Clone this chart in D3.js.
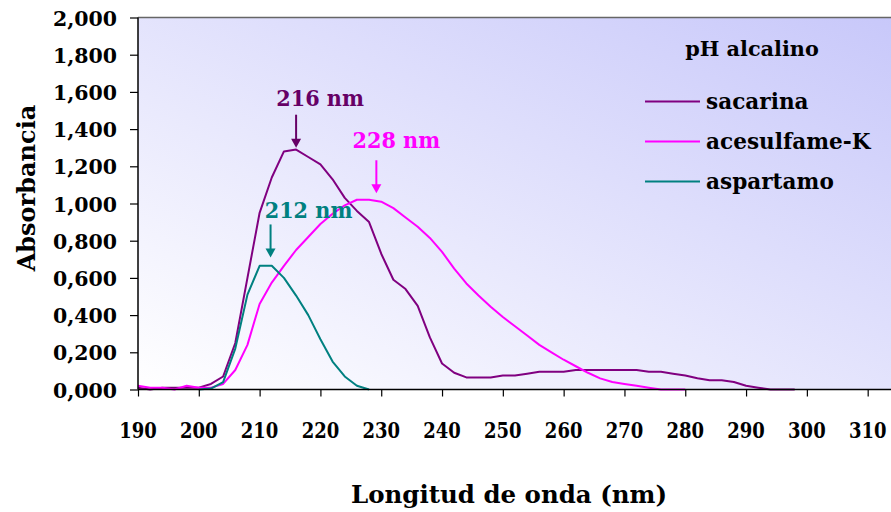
<!DOCTYPE html>
<html>
<head>
<meta charset="utf-8">
<script src="https://cdn.jsdelivr.net/npm/d3@7"></script>
<style>
  body { margin: 0; background: #fff; }
  text { font-family: "DejaVu Serif", serif; font-weight: bold; }
</style>
</head>
<body>
<div id="chart"></div>
<script>
// wavelength (nm), one reading every 2 nm
var wavelengths = [
  190, 192, 194, 196, 198, 200, 202, 204, 206, 208,
  210, 212, 214, 216, 218, 220, 222, 224, 226, 228,
  230, 232, 234, 236, 238, 240, 242, 244, 246, 248,
  250, 252, 254, 256, 258, 260, 262, 264, 266, 268,
  270, 272, 274, 276, 278, 280, 282, 284, 286, 288,
  290, 292, 294, 296, 298
];

var sacarina = [
  0.010, 0.000, 0.010, 0.010, 0.010, 0.010, 0.030, 0.070, 0.250, 0.600,
  0.950, 1.140, 1.280, 1.290, 1.250, 1.210, 1.130, 1.030, 0.960, 0.900,
  0.730, 0.590, 0.540, 0.450, 0.280, 0.140, 0.090, 0.065, 0.065, 0.065,
  0.075, 0.075, 0.085, 0.095, 0.095, 0.095, 0.105, 0.105, 0.105, 0.105,
  0.105, 0.105, 0.095, 0.095, 0.085, 0.075, 0.060, 0.050, 0.050, 0.040,
  0.020, 0.010, 0.000, 0.000, 0.000
];

var acesulfame = [
  0.020, 0.010, 0.010, 0.000, 0.020, 0.010, 0.010, 0.030, 0.105, 0.240,
  0.460, 0.575, 0.665, 0.750, 0.820, 0.890, 0.945, 0.990, 1.020, 1.020,
  1.010, 0.975, 0.925, 0.875, 0.815, 0.740, 0.650, 0.570, 0.505, 0.445,
  0.390, 0.340, 0.290, 0.240, 0.200, 0.160, 0.125, 0.090, 0.060, 0.040,
  0.030, 0.020, 0.010, 0.000, 0.000, 0.000, null, null, null, null,
  null, null, null, null, null
];

var aspartamo = [
  null, null, null, null, null, 0.000, 0.005, 0.040, 0.220, 0.510,
  0.665, 0.665, 0.600, 0.505, 0.400, 0.270, 0.150, 0.070, 0.020, 0.000,
  null, null, null, null, null, null, null, null, null, null,
  null, null, null, null, null, null, null, null, null, null,
  null, null, null, null, null, null, null, null, null, null,
  null, null, null, null, null
];

var seriesNames = ["sacarina", "acesulfame-K", "aspartamo"];
var seriesColors = ["#800080", "#ff00ff", "#008080"];

var xTicks = [190, 200, 210, 220, 230, 240, 250, 260, 270, 280, 290, 300, 310];
var yTicks = [0, 0.2, 0.4, 0.6, 0.8, 1.0, 1.2, 1.4, 1.6, 1.8, 2.0];

// peak annotations: label, wavelength of the arrow, absorbance at the arrow tip
var peakLabels = ["216 nm", "228 nm", "212 nm"];
var peakNm = [216, 229.2, 211.8];
var peakTip = [1.30, 1.055, 0.71];
var peakColors = ["#660066", "#ff00ff", "#008080"];

var legendTitle = "pH alcalino";
var xTitle = "Longitud de onda (nm)";
var yTitle = "Absorbancia";

var width = 891,
  height = 512,
  plot = { left: 138, right: 892, top: 17.5, bottom: 389.5 };

var x = d3.scaleLinear().domain([190, 314]).range([plot.left, plot.right]);
var y = d3.scaleLinear().domain([0, 2]).range([plot.bottom, plot.top]);

var fmt = function (d) {
  return d3.format(".3f")(d).replace(".", ",");
};

// text that can be stretched a little, the original glyphs are taller than wide
function stretchText(sel, tx, ty, str, size, sx, sy, anchor, color) {
  return sel
    .append("text")
    .attr("transform", "translate(" + tx + "," + ty + ") scale(" + sx + "," + sy + ")")
    .attr("font-size", size + "px")
    .attr("text-anchor", anchor || "start")
    .attr("fill", color || "#000")
    .text(str);
}

var svg = d3
  .select("#chart")
  .append("svg")
  .attr("width", width)
  .attr("height", height);

//Add background gradient
var grad = svg
  .append("defs")
  .append("linearGradient")
  .attr("id", "bg")
  .attr("x1", 0)
  .attr("y1", 1)
  .attr("x2", 1)
  .attr("y2", 0);
grad.append("stop").attr("offset", "0%").attr("stop-color", "#ffffff");
grad.append("stop").attr("offset", "100%").attr("stop-color", "#c8c8fa");

svg
  .append("rect")
  .attr("x", plot.left)
  .attr("y", plot.top)
  .attr("width", plot.right - plot.left)
  .attr("height", plot.bottom - plot.top)
  .attr("fill", "url(#bg)");

//top border
svg
  .append("line")
  .attr("x1", plot.left)
  .attr("x2", plot.right)
  .attr("y1", plot.top)
  .attr("y2", plot.top)
  .attr("stroke", "#666")
  .attr("stroke-width", 1.5);

//Add series lines
var allSeries = [sacarina, acesulfame, aspartamo];

var line = d3
  .line()
  .defined(function (d) { return d[1] != null; })
  .x(function (d) { return x(d[0]); })
  .y(function (d) { return y(d[1]); });

svg
  .append("g")
  .selectAll("path")
  .data(allSeries)
  .join("path")
  .attr("fill", "none")
  .attr("stroke", function (d, i) { return seriesColors[i]; })
  .attr("stroke-width", 2)
  .attr("stroke-linejoin", "round")
  .attr("d", function (vals) {
    return line(wavelengths.map(function (w, j) { return [w, vals[j]]; }));
  });

//Axes
var yAxis = svg
  .append("g")
  .attr("transform", "translate(" + plot.left + ",0)")
  .call(d3.axisLeft(y).tickValues(yTicks).tickSize(8).tickFormat(""));

var xAxis = svg
  .append("g")
  .attr("transform", "translate(0," + plot.bottom + ")")
  .call(d3.axisBottom(x).tickValues(xTicks).tickSize(7).tickFormat(""));

[yAxis, xAxis].forEach(function (a) {
  a.select(".domain").attr("stroke", "#000").attr("stroke-width", 1.5);
  a.selectAll(".tick line").attr("stroke", "#000").attr("stroke-width", 1.2);
});
// plain domain lines, no outer ticks
yAxis.select(".domain").attr("d", "M0," + plot.top + "V" + plot.bottom);
xAxis.select(".domain").attr("d", "M" + plot.left + ",0H" + plot.right);

//tick labels
var labels = svg.append("g");
yTicks.forEach(function (t) {
  stretchText(labels, 117, y(t) + 8, fmt(t), 19.5, 1.05, 1.0, "end");
});
xTicks.forEach(function (t) {
  stretchText(labels, x(t), 437.5, t, 18, 1, 1.2, "middle");
});

//axis titles
stretchText(svg, 509, 503, xTitle, 24, 1.02, 1, "middle");
svg
  .append("text")
  .attr("transform", "translate(35,188) rotate(-90)")
  .attr("font-size", "24px")
  .attr("text-anchor", "middle")
  .text(yTitle);

//peak arrows
var labelDx = [24, 20, 38],
  labelDy = [-9, -12, -6],
  arrowLen = 33;

var peaks = svg.append("g");
peakLabels.forEach(function (lab, i) {
  var ax = x(peakNm[i]),
    tip = y(peakTip[i]),
    top = tip - arrowLen;
  peaks
    .append("line")
    .attr("x1", ax)
    .attr("x2", ax)
    .attr("y1", top)
    .attr("y2", tip - 6)
    .attr("stroke", peakColors[i])
    .attr("stroke-width", 2);
  peaks
    .append("path")
    .attr("d", "M" + (ax - 5) + "," + (tip - 9) + "L" + (ax + 5) + "," + (tip - 9) + "L" + ax + "," + tip + "Z")
    .attr("fill", peakColors[i]);
  stretchText(peaks, ax + labelDx[i], top + labelDy[i], lab, 20, 1.04, 1.07, "middle", peakColors[i]);
});

//legend
var legend = svg.append("g");
stretchText(legend, 752, 56, legendTitle, 20, 1.04, 1.02, "middle");

seriesNames.forEach(function (name, i) {
  var ly = 101.5 + i * 40;
  legend
    .append("line")
    .attr("x1", 645)
    .attr("x2", 700)
    .attr("y1", ly)
    .attr("y2", ly)
    .attr("stroke", seriesColors[i])
    .attr("stroke-width", 2);
  stretchText(legend, 706, ly + 7, name, 20, 1.08, 1.12, "start");
});
</script>
</body>
</html>
